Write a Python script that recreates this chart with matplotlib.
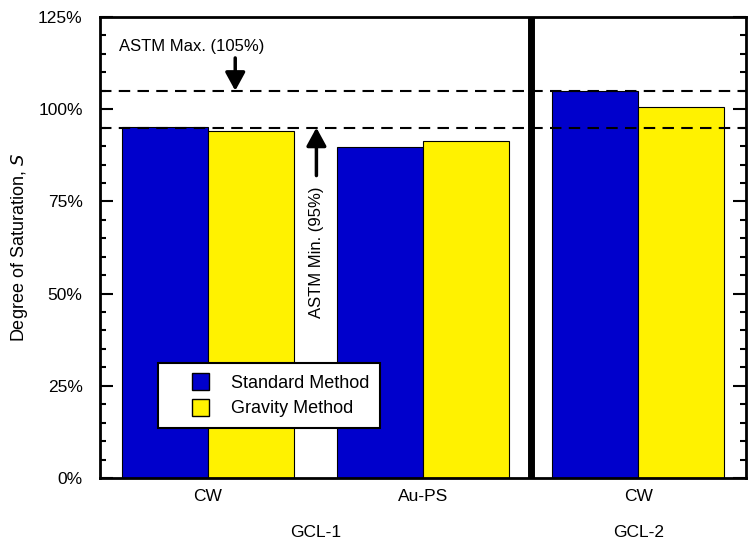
import numpy as np
import matplotlib
matplotlib.use('Agg')
import matplotlib.pyplot as plt
from matplotlib.ticker import MultipleLocator, FuncFormatter
from matplotlib.patches import Patch, Rectangle
from matplotlib.legend_handler import HandlerPatch

plt.rcParams['font.family'] = ['Liberation Sans', 'DejaVu Sans']

# data
categories = ['CW', 'Au-PS', 'CW']
groups = ['GCL-1', 'GCL-2']
group_pos = [0.5, 2.0]
standard = [95.3, 89.8, 104.8]
gravity = [94.2, 91.4, 100.6]
astm_min = 95
astm_max = 105

blue = '#0000CC'
yellow = '#FFF200'


class SquareHandler(HandlerPatch):
    # small square pushed to the right side of the handle box
    def create_artists(self, legend, orig_handle, xdescent, ydescent,
                       width, height, fontsize, trans):
        s = 12.2
        p = Rectangle((width - s - xdescent, -ydescent + (height - s) / 2), s, s,
                      facecolor=orig_handle.get_facecolor(),
                      edgecolor='black', lw=1, transform=trans)
        return [p]


fig = plt.figure(figsize=(7.51, 5.50), dpi=100)
ax = fig.add_axes([100/751, (550-478)/550, 646/751, 461/550])

x = np.arange(len(categories))
w = 0.4
ax.bar(x - w/2, standard, w, color=blue, edgecolor='black', linewidth=0.8, zorder=2)
ax.bar(x + w/2, gravity, w, color=yellow, edgecolor='black', linewidth=0.8, zorder=2)

ax.axhline(astm_max, color='black', lw=1.5, ls=(0, (5.5, 3.5)), zorder=3)
ax.axhline(astm_min, color='black', lw=1.5, ls=(0, (5.5, 3.5)), zorder=3)
ax.axvline(1.5, color='black', lw=5, zorder=4)

ax.set_xlim(-0.5, 2.5)
ax.set_ylim(0, 125)

# y axis
ax.yaxis.set_major_locator(MultipleLocator(25))
ax.yaxis.set_minor_locator(MultipleLocator(5))
ax.yaxis.set_major_formatter(FuncFormatter(lambda v, p: '%d%%' % v))
ax.tick_params(axis='y', which='both', direction='in', right=True, width=1.5,
               labelsize=12.5, pad=12.5)
ax.tick_params(axis='y', which='major', length=9.5)
ax.tick_params(axis='y', which='minor', length=4.5)

ax.set_xticks(x)
ax.set_xticklabels(categories)
ax.tick_params(axis='x', length=0, labelsize=12.5, pad=8)

for sp in ax.spines.values():
    sp.set_linewidth(2)

ax.set_ylabel('Degree of Saturation, $\\mathit{S}$', fontsize=13)
ax.yaxis.set_label_coords(-0.108, 0.5)

# group labels
for g, gx in zip(groups, group_pos):
    ax.text(gx, -0.119, g, transform=ax.get_xaxis_transform(),
            ha='center', va='center', fontsize=12.5)

# annotations
arrow = dict(arrowstyle='-|>,head_width=0.6,head_length=1.1',
             color='black', lw=2.5, shrinkA=0, shrinkB=0)
ax.annotate('', xy=(0.128, astm_max), xytext=(0.128, 113.9), arrowprops=arrow, zorder=5)
ax.text(-0.074, 116.9, 'ASTM Max. (105%)', ha='center', va='center', fontsize=12)
ax.annotate('', xy=(0.505, astm_min), xytext=(0.505, 82), arrowprops=arrow, zorder=5)
ax.text(0.505, 61.3, 'ASTM Min. (95%)', ha='center', va='center', fontsize=12,
        rotation=90, zorder=5)

handles = [Patch(facecolor=blue, edgecolor='black'),
           Patch(facecolor=yellow, edgecolor='black')]
leg = ax.legend(handles, ['Standard Method', 'Gravity Method'], loc='upper left',
                bbox_to_anchor=((158-100)/646, (478-363)/461), fontsize=13,
                fancybox=False, framealpha=1, edgecolor='black',
                handlelength=2.2, handleheight=0.95, handletextpad=1.25,
                borderpad=0.6, labelspacing=0.42, borderaxespad=0,
                handler_map={Patch: SquareHandler()})
leg.get_frame().set_linewidth(1.5)
leg.set_zorder(6)

fig.savefig('out.png', dpi=100)
